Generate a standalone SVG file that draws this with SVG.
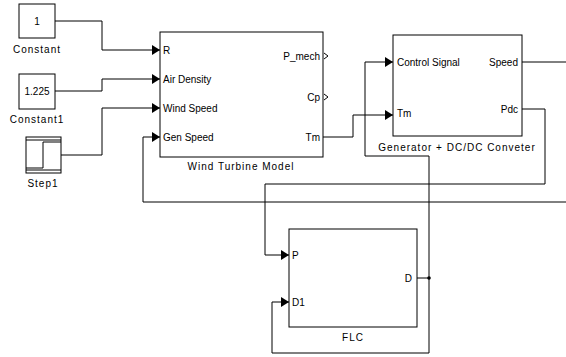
<svg xmlns="http://www.w3.org/2000/svg" width="566" height="357" viewBox="0 0 566 357">
<defs>
<style>
.blk{fill:#fff;stroke:#000;stroke-width:1}
.w{fill:none;stroke:#000;stroke-width:1}
.t{font-family:"Liberation Sans",Arial,sans-serif;font-size:10px;fill:#000}
.lbl{font-family:"Liberation Sans",Arial,sans-serif;font-size:10px;fill:#000;letter-spacing:1px;text-anchor:middle}
</style>
<marker id="a" viewBox="0 0 8 10" refX="8" refY="5" markerWidth="8" markerHeight="10" markerUnits="userSpaceOnUse" orient="auto">
<path d="M0,0 L8,5 L0,10 Z" fill="#000"/>
</marker>
</defs>
<rect width="566" height="357" fill="#fff"/>
<g id="connectors">
<polyline class="w" points="55,21 102,21 102,50 160,50" marker-end="url(#a)"/>
<polyline class="w" points="55,91 102,91 102,79 160,79" marker-end="url(#a)"/>
<polyline class="w" points="61,155 102,155 102,108 160,108" marker-end="url(#a)"/>
<polyline class="w" points="566,202 143,202 143,137 160,137" marker-end="url(#a)"/>
<polyline class="w" points="323,137 353,137 353,115 393,115" marker-end="url(#a)"/>
<polyline class="w" points="522,62 566,62"/>
<polyline class="w" points="522,109 545,109 545,184 265,184 265,255 289,255" marker-end="url(#a)"/>
<polyline class="w" points="417,278 429,278"/>
<polyline class="w" points="429,278 429,156 365,156 365,62 393,62" marker-end="url(#a)"/>
<polyline class="w" points="429,278 429,353 272,353 272,302 289,302" marker-end="url(#a)"/>
<circle cx="429" cy="278" r="1.8" fill="#000"/>
</g>
<g id="constant">
<rect class="blk" x="19" y="4" width="36" height="34"/>
<text class="t" x="37" y="25" text-anchor="middle">1</text>
<text class="lbl" x="37" y="53">Constant</text>
</g>
<g id="constant1">
<rect class="blk" x="19" y="74" width="36" height="35"/>
<text class="t" x="37" y="95" text-anchor="middle">1.225</text>
<text class="lbl" x="37" y="123">Constant1</text>
</g>
<g id="step1">
<rect class="blk" x="26" y="137" width="35" height="36"/>
<line class="w" x1="26" y1="140" x2="61" y2="140"/>
<line class="w" x1="26" y1="170" x2="61" y2="170"/>
<polyline class="w" points="26,168 43,168 43,142 61,142"/>
<text class="lbl" x="43" y="187">Step1</text>
</g>
<g id="wind-turbine-model">
<rect class="blk" x="160" y="32" width="163" height="125"/>
<text class="t" x="163" y="54">R</text>
<text class="t" x="163" y="83">Air Density</text>
<text class="t" x="163" y="112">Wind Speed</text>
<text class="t" x="163" y="141">Gen Speed</text>
<text class="t" x="320" y="60" text-anchor="end">P_mech</text>
<text class="t" x="320" y="101" text-anchor="end">Cp</text>
<text class="t" x="320" y="141" text-anchor="end">Tm</text>
<path class="w" d="M324,53 L328,56 L324,59"/>
<path class="w" d="M324,94 L328,97 L324,100"/>
<text class="lbl" x="241" y="170">Wind Turbine Model</text>
</g>
<g id="generator">
<rect class="blk" x="393" y="35" width="129" height="101"/>
<text class="t" x="397" y="66">Control Signal</text>
<text class="t" x="397" y="117">Tm</text>
<text class="t" x="518" y="66" text-anchor="end">Speed</text>
<text class="t" x="518" y="113" text-anchor="end">Pdc</text>
<text class="lbl" x="457" y="151">Generator + DC/DC Conveter</text>
</g>
<g id="flc">
<rect class="blk" x="289" y="229" width="128" height="98"/>
<text class="t" x="292" y="259">P</text>
<text class="t" x="292" y="306">D1</text>
<text class="t" x="412" y="282" text-anchor="end">D</text>
<text class="lbl" x="353" y="341">FLC</text>
</g>
</svg>
